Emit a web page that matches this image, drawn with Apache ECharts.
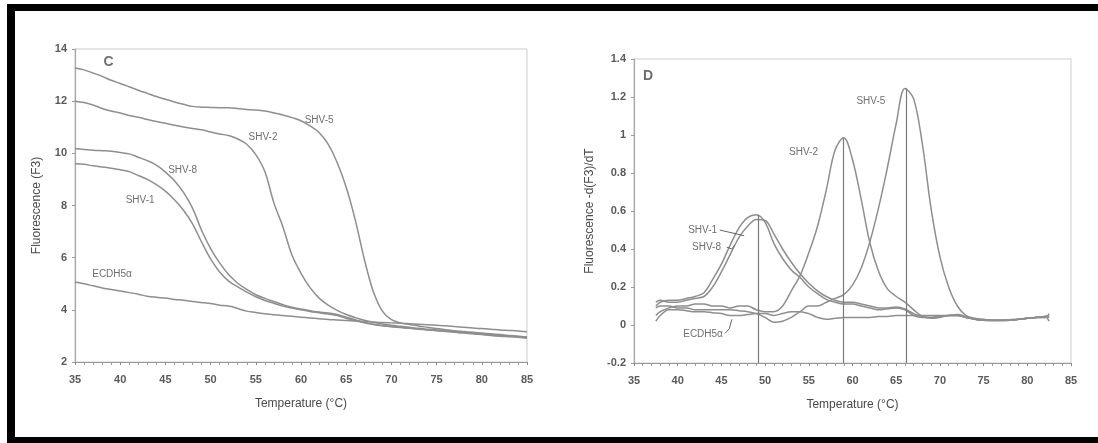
<!DOCTYPE html>
<html>
<head>
<meta charset="utf-8">
<script src="https://cdn.jsdelivr.net/npm/echarts@6/dist/echarts.min.js"></script>
<style>
html,body{margin:0;padding:0;background:#fff;}
#chart{width:1098px;height:443px;}
</style>
</head>
<body>
<div id="chart"></div>
<script>
// ---------- Panel C: melting curves, Fluorescence (F3) ----------
const tempsC = [35,36,37,38,39,40,41,42,43,44,45,46,47,48,49,50,51,52,53,54,55,56,57,58,59,60,61,62,63,64,65,66,67,68,69,70,71,72,73,74,75,76,77,78,79,80,81,82,83,84,85];
const shv5C = [13.27,13.2,13.08,12.95,12.8,12.68,12.55,12.42,12.3,12.18,12.07,11.97,11.88,11.8,11.77,11.76,11.75,11.75,11.72,11.68,11.66,11.62,11.55,11.47,11.37,11.25,11.05,10.8,10.35,9.65,8.7,7.45,5.95,4.7,3.95,3.62,3.5,3.44,3.38,3.33,3.28,3.24,3.2,3.17,3.14,3.11,3.08,3.05,3.02,2.99,2.96];
const shv2C = [12.0,11.95,11.85,11.72,11.62,11.55,11.45,11.38,11.3,11.22,11.15,11.08,11.01,10.95,10.9,10.82,10.74,10.68,10.55,10.35,9.95,9.3,8.1,7.18,6.1,5.4,4.85,4.45,4.18,3.98,3.82,3.7,3.6,3.52,3.46,3.41,3.37,3.33,3.29,3.26,3.23,3.2,3.17,3.14,3.11,3.08,3.05,3.02,3.0,2.98,2.95];
const shv8C = [10.18,10.15,10.12,10.1,10.08,10.03,9.98,9.85,9.72,9.55,9.28,8.95,8.5,7.9,7.05,6.35,5.8,5.35,5.02,4.78,4.58,4.44,4.32,4.2,4.1,4.03,3.97,3.92,3.88,3.82,3.72,3.62,3.52,3.45,3.4,3.36,3.33,3.3,3.27,3.24,3.21,3.18,3.15,3.12,3.09,3.06,3.03,3.0,2.98,2.96,2.93];
const shv1C = [9.6,9.58,9.52,9.48,9.43,9.37,9.3,9.15,9.0,8.8,8.55,8.22,7.82,7.3,6.6,5.95,5.45,5.1,4.88,4.68,4.5,4.36,4.25,4.15,4.07,4.0,3.94,3.89,3.84,3.78,3.68,3.58,3.5,3.44,3.39,3.35,3.32,3.29,3.26,3.23,3.2,3.17,3.14,3.11,3.08,3.05,3.02,2.99,2.97,2.95,2.92];
const ecdhC = [5.07,5.0,4.92,4.84,4.78,4.72,4.66,4.6,4.52,4.48,4.45,4.4,4.37,4.32,4.28,4.24,4.18,4.15,4.05,3.95,3.9,3.85,3.81,3.78,3.75,3.72,3.69,3.66,3.63,3.61,3.59,3.57,3.55,3.53,3.51,3.5,3.49,3.47,3.45,3.43,3.41,3.39,3.36,3.33,3.3,3.28,3.26,3.23,3.21,3.19,3.16];
const labelsC = [['SHV-5',62.0,11.25],['SHV-2',55.8,10.6],['SHV-8',46.9,9.34],['SHV-1',42.2,8.19],['ECDH5α',39.1,5.35]];
const panelC = ['C',38.7,13.5];
const yTicksC = {min:2, max:14, interval:2};

// ---------- Panel D: derivative melting peaks, -d(F3)/dT ----------
const tempsD = [37.5,38,39,40,41,42,43,44,45,46,47,48,49,50,51,52,53,54,55,56,57,58,59,60,61,62,63,64,65,66,67,68,69,70,71,72,73,74,75,76,77,78,79,80,81,82,82.5];
const shv1D = [0.1,0.12,0.13,0.13,0.14,0.15,0.17,0.24,0.32,0.42,0.51,0.565,0.58,0.54,0.43,0.35,0.29,0.25,0.2,0.165,0.135,0.12,0.11,0.11,0.1,0.09,0.08,0.085,0.09,0.08,0.05,0.04,0.04,0.045,0.05,0.05,0.04,0.03,0.025,0.025,0.025,0.028,0.03,0.035,0.04,0.04,0.045];
const shv8D = [0.12,0.13,0.12,0.12,0.13,0.14,0.15,0.2,0.28,0.37,0.46,0.52,0.555,0.55,0.48,0.4,0.33,0.27,0.22,0.18,0.15,0.13,0.12,0.12,0.11,0.1,0.09,0.09,0.095,0.085,0.06,0.045,0.04,0.045,0.05,0.055,0.045,0.03,0.025,0.025,0.025,0.028,0.03,0.035,0.04,0.045,0.05];
const shv2D = [0.05,0.07,0.09,0.1,0.1,0.11,0.11,0.1,0.1,0.09,0.1,0.1,0.08,0.07,0.07,0.1,0.18,0.26,0.38,0.52,0.71,0.92,0.985,0.87,0.66,0.43,0.28,0.19,0.15,0.12,0.08,0.045,0.035,0.04,0.05,0.05,0.04,0.03,0.025,0.022,0.022,0.025,0.03,0.035,0.04,0.045,0.04];
const shv5D = [0.09,0.1,0.1,0.09,0.09,0.08,0.08,0.08,0.08,0.08,0.075,0.07,0.06,0.04,0.015,0.02,0.04,0.07,0.1,0.1,0.12,0.14,0.16,0.21,0.3,0.44,0.62,0.83,1.06,1.245,1.19,0.95,0.61,0.36,0.2,0.1,0.05,0.035,0.03,0.025,0.025,0.025,0.03,0.035,0.04,0.045,0.02];
const ecdhD = [0.02,0.05,0.08,0.08,0.075,0.07,0.07,0.065,0.06,0.05,0.05,0.055,0.06,0.06,0.05,0.06,0.07,0.07,0.06,0.04,0.03,0.035,0.04,0.04,0.04,0.04,0.045,0.045,0.05,0.05,0.05,0.05,0.05,0.05,0.05,0.05,0.04,0.03,0.025,0.025,0.025,0.025,0.03,0.035,0.04,0.04,0.06];
const peakTemps = [49.2,58.9,66.2];
const peakValues = [0.58,0.985,1.245];
const labelsD = [['SHV-5',62.1,1.18],['SHV-2',54.4,0.91],['SHV-1',42.85,0.5],['SHV-8',43.3,0.41],['ECDH5α',42.9,-0.05]];
const leadersD = [[[44.8,0.5],[47.6,0.47]],[[45.6,0.41],[46.2,0.4],[46.5,0.42]],[[45.4,-0.045],[45.9,-0.02],[46.2,0.03]]];
const panelD = ['D',36.6,1.31];
const yTicksD = {min:-0.2, max:1.4, interval:0.2};

const xTicks = {min:35, max:85, interval:5};

// ---------- build ----------
const FONT = 'Liberation Sans';
const LINE = '#8e8e8e';
const TXT = '#4a4a4a';

function zip(xs, ys){ return xs.map((x,i)=>[x,ys[i]]); }
function curve(name, xs, ys, idx){
  return {type:'line', name, xAxisIndex:idx, yAxisIndex:idx, data:zip(xs,ys),
    showSymbol:false, smooth:0.35, silent:true, z:3,
    lineStyle:{color:LINE, width:1.5}};
}
function textSeries(items, idx, size, weight){
  return {type:'scatter', xAxisIndex:idx, yAxisIndex:idx, silent:true, z:5,
    symbolSize:1, itemStyle:{color:'rgba(0,0,0,0)'},
    data: items.map(d=>({value:[d[1],d[2]], name:d[0]})),
    label:{show:true, position:'inside', formatter:p=>p.name,
      fontFamily:FONT, fontSize:size, fontWeight:weight, color:TXT}};
}
function xAx(idx){
  return {type:'value', gridIndex:idx, min:xTicks.min, max:xTicks.max, interval:xTicks.interval,
    name:'Temperature (°C)', nameLocation:'middle', nameGap:36,
    nameTextStyle:{fontFamily:FONT, fontSize:12, color:TXT},
    axisLine:{show:true, onZero:false, lineStyle:{color:'#9a9a9a', width:1.2}},
    axisTick:{show:true, length:3, lineStyle:{color:'#888'}},
    minorTick:{show:true, splitNumber:5, length:3, lineStyle:{color:'#999'}},
    splitLine:{show:false},
    axisLabel:{fontFamily:FONT, fontSize:11, fontWeight:'bold', color:'#5a5a5a', margin:12}};
}
function yAx(idx, t, name, gap){
  return {type:'value', gridIndex:idx, min:t.min, max:t.max, interval:t.interval,
    name, nameLocation:'middle', nameGap:gap, nameRotate:90,
    nameTextStyle:{fontFamily:FONT, fontSize:12, color:TXT},
    axisLine:{show:true, onZero:false, lineStyle:{color:'#a8a8a8', width:1.2}},
    axisTick:{show:true, length:3, lineStyle:{color:'#999'}},
    splitLine:{show:false},
    axisLabel:{fontFamily:FONT, fontSize:11, fontWeight:'bold', color:'#5a5a5a', margin:8}};
}

const series = [
  curve('SHV-5', tempsC, shv5C, 0),
  curve('SHV-2', tempsC, shv2C, 0),
  curve('SHV-8', tempsC, shv8C, 0),
  curve('SHV-1', tempsC, shv1C, 0),
  curve('ECDH5α', tempsC, ecdhC, 0),
  textSeries(labelsC, 0, 10, 'normal'),
  textSeries([panelC], 0, 14, 'bold'),
  curve('SHV-5', tempsD, shv5D, 1),
  curve('SHV-2', tempsD, shv2D, 1),
  curve('SHV-8', tempsD, shv8D, 1),
  curve('SHV-1', tempsD, shv1D, 1),
  curve('ECDH5α', tempsD, ecdhD, 1),
  textSeries(labelsD, 1, 10, 'normal'),
  textSeries([panelD], 1, 14, 'bold'),
  {type:'line', xAxisIndex:1, yAxisIndex:1, data:[], silent:true,
    markLine:{silent:true, symbol:'none', label:{show:false},
      lineStyle:{color:'#7a7a7a', width:1.2, type:'solid'},
      data: peakTemps.map((t,i)=>[{coord:[t,yTicksD.min]},{coord:[t,peakValues[i]]}])}}
];
leadersD.forEach(pts=>{
  series.push({type:'line', xAxisIndex:1, yAxisIndex:1, data:pts, showSymbol:false, silent:true,
    lineStyle:{color:'#666', width:1}});
});

const chart = echarts.init(document.getElementById('chart'), null, {renderer:'canvas'});
chart.setOption({
  backgroundColor:'#ffffff',
  animation:false,
  grid:[
    {left:75, right:571, top:49, bottom:81, show:true, borderColor:'#cdcdcd', borderWidth:1},
    {left:634, right:27, top:59, bottom:80, show:true, borderColor:'#cdcdcd', borderWidth:1}
  ],
  xAxis:[xAx(0), xAx(1)],
  yAxis:[yAx(0, yTicksC, 'Fluorescence (F3)', 32), yAx(1, yTicksD, 'Fluorescence -d(F3)/dT', 38)],
  series,
  graphic:[
    {type:'rect', shape:{x:7, y:4, width:1091, height:7}, style:{fill:'#000'}, silent:true},
    {type:'rect', shape:{x:7, y:4, width:8, height:439}, style:{fill:'#000'}, silent:true},
    {type:'rect', shape:{x:7, y:437, width:1091, height:6}, style:{fill:'#000'}, silent:true}
  ]
});
</script>
</body>
</html>
